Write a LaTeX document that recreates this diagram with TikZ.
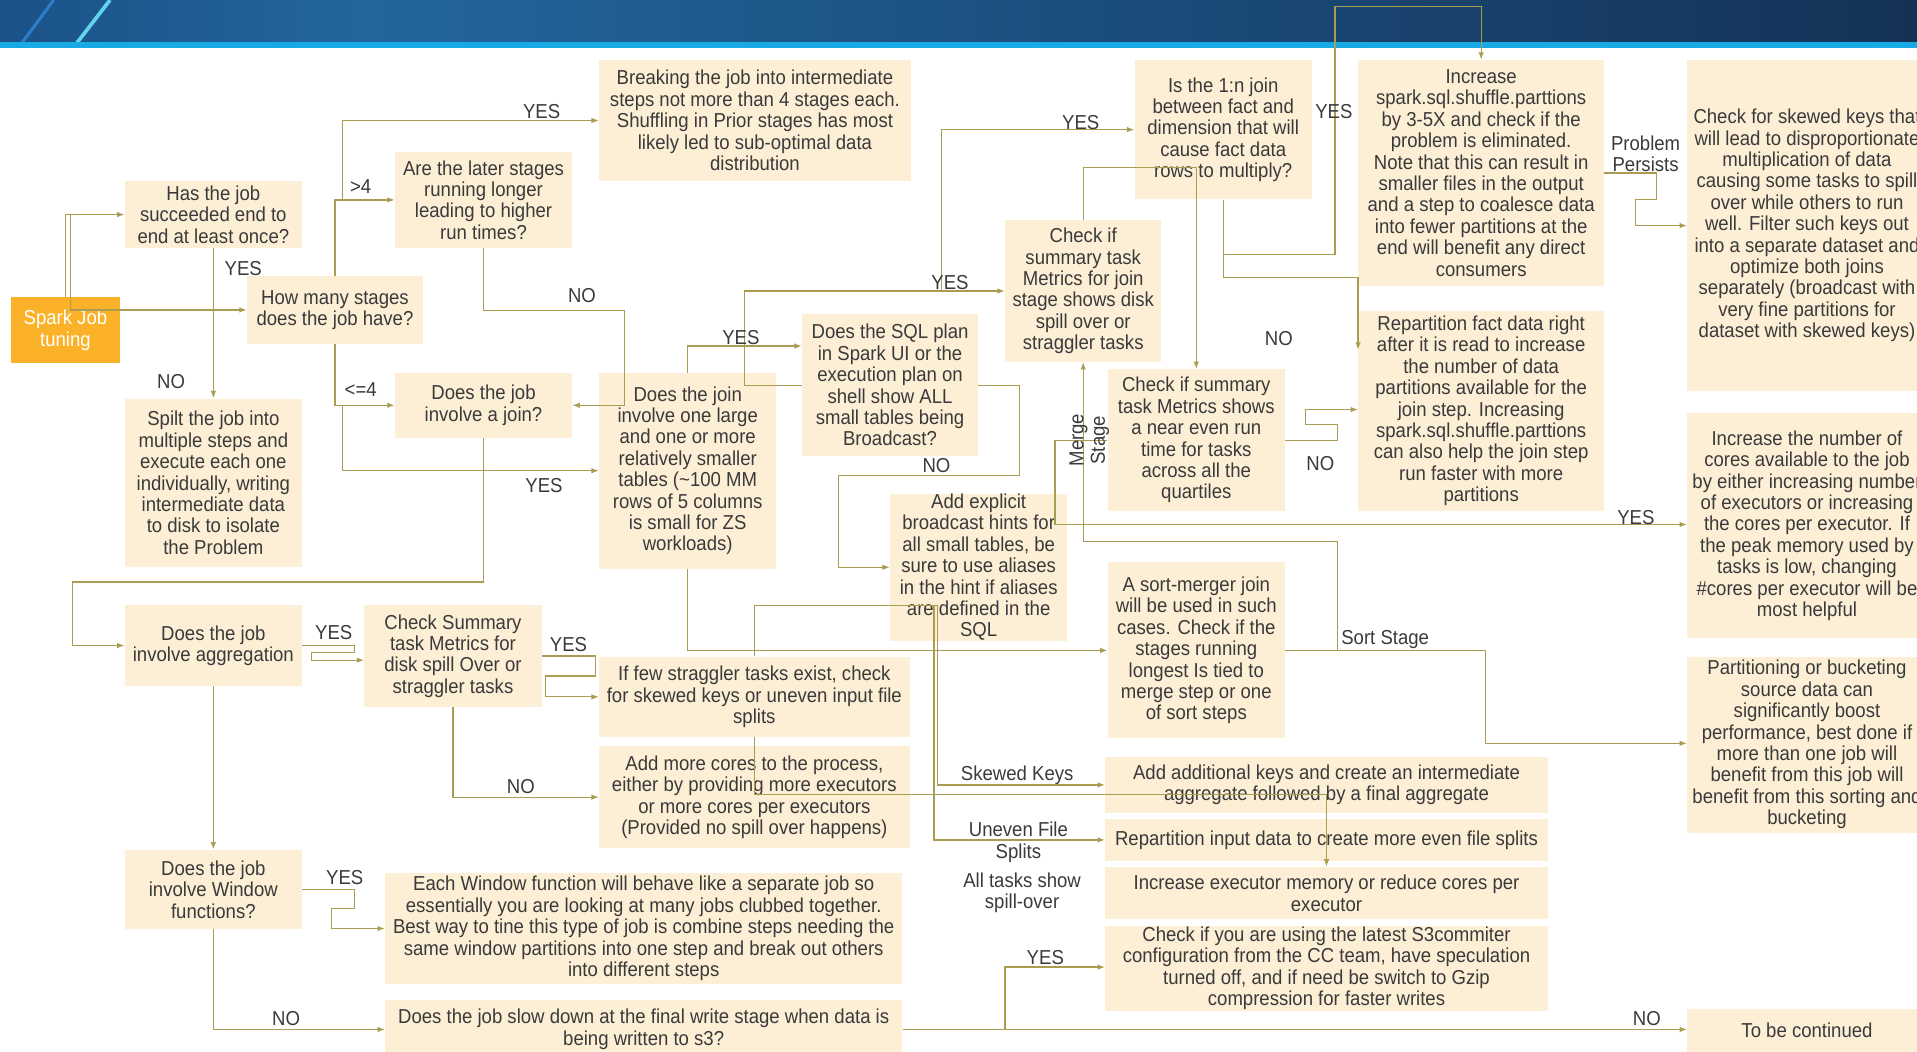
\documentclass[tikz,border=0pt]{standalone}
\usepackage{fontspec}
\setmainfont[FakeStretch=0.92]{Liberation Sans}
\usepackage{xcolor}
\usepackage{tikz}
\usetikzlibrary{arrows.meta,positioning,calc}

\definecolor{boxfill}{RGB}{253,239,214}
\definecolor{txtgray}{RGB}{58,58,58}
\definecolor{linkolive}{RGB}{170,156,80}
\definecolor{sparkorange}{RGB}{251,178,40}
\definecolor{navyA}{RGB}{27,82,135}
\definecolor{navyB}{RGB}{34,102,158}
\definecolor{navyC}{RGB}{20,50,86}
\definecolor{bandcyan}{RGB}{24,170,228}

\begin{document}
\begin{tikzpicture}[
  x=1pt, y=-1pt,
  block/.style={fill=boxfill, text=txtgray, align=center, inner sep=0pt, font=\fontsize{16.5}{17.5}\selectfont},
  startblock/.style={block, fill=sparkorange, text=white},
  link/.style={draw=linkolive, line width=1pt, -{Latex[length=6pt,width=4.5pt]}},
  lbl/.style={text=txtgray, inner sep=0pt, align=center, font=\fontsize{16.5}{17.5}\selectfont}
]
  \useasboundingbox (0,0) rectangle (1568,860);
  \clip (0,0) rectangle (1568,860);

  % Header band
  \shade[left color=navyA, right color=navyB] (0,0) rectangle (300,35);
  \shade[left color=navyB, right color=navyC] (300,0) rectangle (1568,35);
  \draw[line width=2.5pt, color={rgb,255:red,45;green,125;blue,200}] (18,35) -- (44,0);
  \draw[line width=3pt, color={rgb,255:red,95;green,212;blue,236}] (63,35) -- (90,0);
  \fill[bandcyan] (0,34) rectangle (1568,39);

  % Left column
  \node[startblock, minimum width=89pt, minimum height=54pt] (start) at (53.5,270) {Spark Job\\tuning};
  \node[block, minimum width=145pt, minimum height=55pt] (hasRun) at (174.5,175.5) {Has the job\\succeeded end to\\end at least once?};
  \node[block, minimum width=144pt, minimum height=55pt] (nStages) at (274,253.5) {How many stages\\does the job have?};
  \node[block, minimum width=145pt, minimum height=79pt] (laterStages) at (395.5,163.5) {Are the later stages\\running longer\\leading to higher\\run times?};
  \node[block, minimum width=255pt, minimum height=99pt] (breakJob) at (617.5,98.5) {Breaking the job into intermediate\\steps not more than 4 stages each.\\Shuffling in Prior stages has most\\likely led to sub-optimal data\\distribution};
  \node[block, minimum width=145pt, minimum height=138pt] (splitJob) at (174.5,395) {Spilt the job into\\multiple steps and\\execute each one\\individually, writing\\intermediate data\\to disk to isolate\\the Problem};
  \node[block, minimum width=145pt, minimum height=53pt] (hasJoin) at (395.5,331.5) {Does the job\\involve a join?};
  \node[block, minimum width=145pt, minimum height=66pt] (hasAgg) at (174.5,528) {Does the job\\involve aggregation};
  \node[block, minimum width=145pt, minimum height=83pt] (spillAgg) at (370.5,536.5) {Check Summary\\task Metrics for\\disk spill Over or\\straggler tasks};
  \node[block, minimum width=145pt, minimum height=65pt] (hasWindow) at (174.5,727.5) {Does the job\\involve Window\\functions?};
  \node[block, minimum width=423pt, minimum height=91pt] (windowTip) at (526.5,759.5) {Each Window function will behave like a separate job so\\essentially you are looking at many jobs clubbed together.\\Best way to tine this type of job is combine steps needing the\\same window partitions into one step and break out others\\into different steps};
  \node[block, minimum width=423pt, minimum height=48pt] (slowWrite) at (526.5,842) {Does the job slow down at the final write stage when data is\\being written to s3?};

  % Join branch
  \node[block, minimum width=145pt, minimum height=160pt] (bigSmall) at (562.5,385) {Does the join\\involve one large\\and one or more\\relatively smaller\\tables (\textasciitilde100 MM\\rows of 5 columns\\is small for ZS\\workloads)};
  \node[block, minimum width=144pt, minimum height=116pt] (sqlPlan) at (728,315) {Does the SQL plan\\in Spark UI or the\\execution plan on\\shell show ALL\\small tables being\\Broadcast?};
  \node[block, minimum width=128pt, minimum height=116pt] (spillJoin) at (886,238) {Check if\\summary task\\Metrics for join\\stage shows disk\\spill over or\\straggler tasks};
  \node[block, minimum width=145pt, minimum height=114pt] (oneToN) at (1000.5,106) {Is the 1:n join\\between fact and\\dimension that will\\cause fact data\\rows to multiply?};
  \node[block, minimum width=201pt, minimum height=185pt] (moreShuffle) at (1211.5,141.5) {Increase\\spark.sql.shuffle.parttions\\by 3-5X and check if the\\problem is eliminated.\\Note that this can result in\\smaller files in the output\\and a step to coalesce data\\into fewer partitions at the\\end will benefit any direct\\consumers};
  \node[block, minimum width=201pt, minimum height=164pt] (repartFact) at (1211.5,336) {Repartition fact data right\\after it is read to increase\\the number of data\\partitions available for the\\join step. Increasing\\spark.sql.shuffle.parttions\\can also help the join step\\run faster with more\\partitions};
  \node[block, minimum width=196pt, minimum height=271pt] (skewKeys) at (1478,184.5) {Check for skewed keys that\\will lead to disproportionate\\multiplication of data\\causing some tasks to spill\\over while others to run\\well. Filter such keys out\\into a separate dataset and\\optimize both joins\\separately (broadcast with\\very fine partitions for\\dataset with skewed keys)};
  \node[block, minimum width=145pt, minimum height=116pt] (evenRun) at (978.5,360) {Check if summary\\task Metrics shows\\a near even run\\time for tasks\\across all the\\quartiles};
  \node[block, minimum width=145pt, minimum height=116pt] (addHints) at (800.5,464) {Add explicit\\broadcast hints for\\all small tables, be\\sure to use aliases\\in the hint if aliases\\are defined in the\\SQL};
  \node[block, minimum width=145pt, minimum height=144pt] (sortMerge) at (978.5,532) {A sort-merger join\\will be used in such\\cases. Check if the\\stages running\\longest Is tied to\\merge step or one\\of sort steps};
  \node[block, minimum width=196pt, minimum height=184pt] (moreCores) at (1478,430) {Increase the number of\\cores available to the job\\by either increasing number\\of executors or increasing\\the cores per executor. If\\the peak memory used by\\tasks is low, changing\\\#cores per executor will be\\most helpful};
  \node[block, minimum width=196pt, minimum height=144pt] (bucketing) at (1478,609) {Partitioning or bucketing\\source data can\\significantly boost\\performance, best done if\\more than one job will\\benefit from this job will\\benefit from this sorting and\\bucketing};

  % Aggregation branch
  \node[block, minimum width=254pt, minimum height=66pt] (fewStrag) at (617,570) {If few straggler tasks exist, check\\for skewed keys or uneven input file\\splits};
  \node[block, minimum width=254pt, minimum height=84pt] (aggCores) at (617,652) {Add more cores to the process,\\either by providing more executors\\or more cores per executors\\(Provided no spill over happens)};
  \node[block, minimum width=362pt, minimum height=46pt] (addKeys) at (1085,642) {Add additional keys and create an intermediate\\aggregate followed by a final aggregate};
  \node[block, minimum width=362pt, minimum height=34pt] (repartInput) at (1085,687) {Repartition input data to create more even file splits};
  \node[block, minimum width=362pt, minimum height=43pt] (moreMem) at (1085,730.5) {Increase executor memory or reduce cores per\\executor};
  \node[block, minimum width=362pt, minimum height=70pt] (s3Commit) at (1085,792) {Check if you are using the latest S3commiter\\configuration from the CC team, have speculation\\turned off, and if need be switch to Gzip\\compression for faster writes};
  \node[block, minimum width=196pt, minimum height=36pt] (tbc) at (1478,843) {To be continued};

  % Connectors
  \draw[link] (start.north) |- (hasRun.west);
  \draw[link] ([xshift=-44pt]hasRun.west) |- (nStages.west);
  \draw[link] (hasRun.south) -- (splitJob.north);
  \draw[link] (nStages.north) |- (laterStages.west);
  \draw[link] (280,163.5) |- (breakJob.west);
  \draw[link] (laterStages.south) |- (511,254) -- (511,331.5) -- (hasJoin.east);
  \draw[link] (nStages.south) |- (hasJoin.west);
  \draw[link] (280,331.5) |- (bigSmall.west);
  \draw[link] (hasJoin.south) |- (59,476) |- (hasAgg.west);
  \draw[link] (hasAgg.east) -| (290,534) -- (255,534) -- (255,540) -- (spillAgg.west |- 0,540);
  \draw[link] (spillAgg.east) -| (487,553) -- (446,553) |- (fewStrag.west);
  \draw[link] (spillAgg.south) |- (aggCores.west);
  \draw[link] (hasAgg.south) -- (hasWindow.north);
  \draw[link] (hasWindow.east) -| (290,743) -- (271,743) |- (windowTip.west);
  \draw[link] (hasWindow.south) |- (slowWrite.west);
  \draw[link] (slowWrite.east) -| (822,791) -- (s3Commit.west |- 0,791);
  \draw[link] (slowWrite.east) -- (tbc.west |- slowWrite.east);
  \draw[link] (bigSmall.south) |- (sortMerge.west);
  \draw[link] (bigSmall.north) |- (sqlPlan.west |- 0,283);
  \draw[link] (sqlPlan.west) -| (609,238) -- (spillJoin.west);
  \draw[link] (770,238) |- (oneToN.west);
  \draw[link] (sqlPlan.east) -| (834,389) -| (686,464) -- (addHints.west);
  \draw[link] (spillJoin.north) |- (evenRun.north |- 0,137) -- (evenRun.north);
  \draw[link] (sortMerge.east) -| (1094,443) -| (spillJoin.south);
  \draw[link] (sortMerge.east) -| (1215,608) -- (bucketing.west |- 0,608);
  \draw[link] (evenRun.west) -| (863,429) -- (moreCores.west |- 0,429);
  \draw[link] (evenRun.east) -| (1094,347) -- (1068,347) |- (repartFact.west |- 0,335);
  \draw[link] (oneToN.south) |- (1092,208) |- (moreShuffle.north |- 0,5) -- (moreShuffle.north);
  \draw[link] (oneToN.south) |- (repartFact.west |- 0,227) -- (repartFact.west |- 0,286);
  \draw[link] (moreShuffle.east) -| (1355,163) -- (1338,163) |- (skewKeys.west);
  \draw[link] (fewStrag.north) |- (767,495) |- (addKeys.west);
  \draw[link] (764,495) |- (repartInput.west);
  \draw[link] (fewStrag.south) |- (moreMem.north |- 0,650) -- (moreMem.north);

  % Labels
  \node[lbl] (lYesRun) at (199,220) {YES};
  \node[lbl] (lNoRun) at (140,312) {NO};
  \node[lbl] (lMore) at (295,153) {>4};
  \node[lbl] (lYesLater) at (443,91) {YES};
  \node[lbl] (lNoLater) at (476,242) {NO};
  \node[lbl] (lLess) at (295,319) {<=4};
  \node[lbl] (lYesJoin) at (445,397) {YES};
  \node[lbl] (lYesAgg) at (273,517) {YES};
  \node[lbl] (lYesSpill) at (465,527) {YES};
  \node[lbl] (lNoSpill) at (426,643) {NO};
  \node[lbl] (lYesWin) at (282,718) {YES};
  \node[lbl] (lNoWin) at (234,833) {NO};
  \node[lbl] (lYesWrite) at (855,783) {YES};
  \node[lbl] (lNoWrite) at (1347,833) {NO};
  \node[lbl] (lYesBig) at (606,276) {YES};
  \node[lbl] (lYesPlan) at (777,231) {YES};
  \node[lbl] (lYesSpillJ) at (884,100) {YES};
  \node[lbl] (lNoPlan) at (766,381) {NO};
  \node[lbl, rotate=90] (lMerge) at (891,360) {Merge\\Stage};
  \node[lbl] (lSort) at (1133,523) {Sort Stage};
  \node[lbl] (lYesEven) at (1338,423) {YES};
  \node[lbl] (lNoEven) at (1080,379) {NO};
  \node[lbl] (lYesOne) at (1091,91) {YES};
  \node[lbl] (lNoOne) at (1046,277) {NO};
  \node[lbl] (lPersist) at (1346,126) {Problem\\Persists};
  \node[lbl] (lSkew) at (832,634) {Skewed Keys};
  \node[lbl] (lUneven) at (833,689) {Uneven File\\Splits};
  \node[lbl] (lAllSpill) at (836,730) {All tasks show\\spill-over};
\end{tikzpicture}
\end{document}
